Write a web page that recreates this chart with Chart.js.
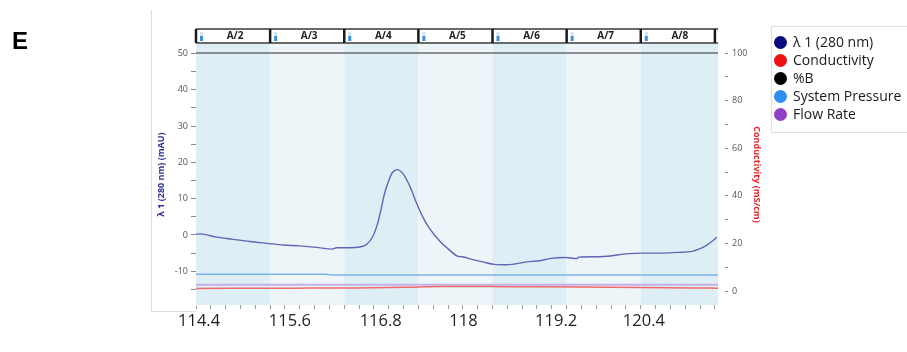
<!DOCTYPE html>
<html>
<head>
<meta charset="utf-8">
<script src="https://cdn.jsdelivr.net/npm/chart.js@4.4.0/dist/chart.umd.min.js"></script>
<style>
  html, body { margin: 0; padding: 0; background: #fff; }
  #wrap { position: relative; width: 907px; height: 352px; overflow: hidden; }
  #panelLetter { position: absolute; left: 12px; top: 29px; font: bold 24px 'Liberation Sans', Arial, sans-serif; line-height: 24px; color: #000; }
  #legend { position: absolute; left: 771px; top: 26px; width: 150px; height: 107px; border: 1px solid #e0e0e0; box-sizing: border-box; padding-top: 6px; font: 14px 'Open Sans', sans-serif; color: #1a1a1a; }
  .item { height: 18px; line-height: 18px; display: flex; align-items: center; white-space: nowrap; }
  .dot { width: 13px; height: 13px; border-radius: 50%; margin-left: 2px; margin-right: 6px; flex: none; }
</style>
</head>
<body>
<div id="wrap">
  <canvas id="chromChart" width="907" height="352"></canvas>
  <div id="panelLetter">E</div>
  <div id="legend"></div>
</div>
<script>
// fraction collection (ml)
const fractionLabels = ['A/2', 'A/3', 'A/4', 'A/5', 'A/6', 'A/7', 'A/8'];
const fractionStart = 114.4;
const fractionWidth = 1.2;

// big labels under the axis, where they sit in the original
const xTickLabels = ['114.4', '115.6', '116.8', '118', '119.2', '120.4'];
const xTickValues = [114.45, 115.92, 117.39, 118.73, 120.23, 121.65];

// UV 280 nm (mAU)
const uvVolume = [114.40, 114.46, 114.74, 115.00, 115.27, 115.55, 115.81, 116.08, 116.35, 116.60,
    116.68, 116.89, 117.05, 117.16, 117.26, 117.34, 117.40, 117.45, 117.53, 117.58,
    117.66, 117.74, 117.86, 117.97, 118.07, 118.18, 118.34, 118.50, 118.63, 118.71,
    118.87, 119.04, 119.23, 119.42, 119.52, 119.75, 119.96, 120.12, 120.39, 120.56,
    120.60, 120.88, 121.14, 121.36, 121.62, 121.90, 122.22, 122.43, 122.54, 122.65,
    122.75, 122.83];
const uvSignal = [0.2, 0.3, -0.6, -1.2, -1.8, -2.3, -2.75, -3.0, -3.4, -3.9,
    -3.5, -3.5, -3.3, -2.6, -0.5, 3.2, 7.4, 11.3, 15.4, 17.2,
    18.0, 17.1, 13.5, 8.8, 5.0, 1.8, -1.6, -4.1, -5.8, -6.0,
    -6.7, -7.4, -8.1, -8.2, -8.1, -7.4, -7.1, -6.5, -6.2, -6.5,
    -6.1, -6.0, -5.7, -5.2, -5.0, -5.0, -4.8, -4.5, -3.9, -3.0,
    -1.8, -0.6];

// conductivity (mS/cm, right axis)
const condVolume = [114.4, 116.0, 117.0, 117.8, 118.4, 119.5, 120.6, 121.6, 122.4, 122.85];
const condValue = [1.1, 1.2, 1.3, 1.6, 1.9, 1.8, 1.7, 1.5, 1.3, 1.2];

// %B (right axis)
const percentBVolume = [114.4, 122.85];
const percentBValue = [100, 100];

// system pressure and flow rate, read against the left axis
const pressureVolume = [114.4, 116.5, 116.6, 122.85];
const pressureLevel = [-10.8, -10.8, -11.0, -11.0];
const flowVolume = [114.4, 122.85];
const flowLevel = [-13.7, -13.7];

const legendNames = ['λ 1 (280 nm)', 'Conductivity', '%B', 'System Pressure', 'Flow Rate'];
const legendColors = ['#0b0b80', '#ee1111', '#000000', '#2e8ff0', '#9040c8'];

const toPoints = (xs, ys) => xs.map((x, i) => ({ x: x, y: ys[i] }));

// legend
const legendBox = document.getElementById('legend');
legendNames.forEach((name, i) => {
    const row = document.createElement('div');
    row.className = 'item';
    row.innerHTML = '<span class="dot" style="background:' + legendColors[i] + '"></span>' + name;
    legendBox.appendChild(row);
});

// bands, fraction header, big x labels
const fractionPlugin = {
    id: 'fractions',
    beforeDatasetsDraw(chart) {
        const { ctx, chartArea, scales } = chart;
        const x = scales.x;
        ctx.save();
        ctx.beginPath();
        ctx.rect(chartArea.left, chartArea.top, chartArea.right - chartArea.left, chartArea.bottom - chartArea.top);
        ctx.clip();
        fractionLabels.forEach((lab, i) => {
            const x0 = x.getPixelForValue(fractionStart + i * fractionWidth);
            const x1 = i === fractionLabels.length - 1 ? chartArea.right : x.getPixelForValue(fractionStart + (i + 1) * fractionWidth);
            ctx.fillStyle = i % 2 === 0 ? '#ddeef5' : '#edf5f9';
            ctx.fillRect(x0, chartArea.top, x1 - x0, chartArea.bottom - chartArea.top);
        });
        ctx.restore();
    },
    afterDraw(chart) {
        const { ctx, chartArea, scales } = chart;
        const x = scales.x;
        const top = 29, bottom = 43;
        ctx.save();
        // header boxes
        const hx0 = x.getPixelForValue(fractionStart);
        const hx1 = x.getPixelForValue(fractionStart + fractionLabels.length * fractionWidth);
        ctx.fillStyle = '#ffffff';
        ctx.fillRect(hx0, top, hx1 - hx0, bottom - top);
        ctx.strokeStyle = '#3a3a3a';
        ctx.lineWidth = 1.5;
        ctx.beginPath();
        ctx.moveTo(hx0, top); ctx.lineTo(chartArea.right, top);
        ctx.moveTo(hx0, bottom); ctx.lineTo(chartArea.right, bottom);
        ctx.stroke();
        fractionLabels.forEach((lab, i) => {
            const x0 = x.getPixelForValue(fractionStart + i * fractionWidth);
            const x1 = x.getPixelForValue(fractionStart + (i + 1) * fractionWidth);
            ctx.strokeStyle = '#1a1a1a';
            ctx.lineWidth = 2.5;
            ctx.beginPath();
            ctx.moveTo(x0, top); ctx.lineTo(x0, bottom);
            ctx.stroke();
            // tube icon
            ctx.fillStyle = '#cfe3f4';
            ctx.fillRect(x0 + 4, top + 3, 3, 4);
            ctx.fillStyle = '#3b8fdc';
            ctx.fillRect(x0 + 4, top + 7, 3, 5);
            ctx.fillStyle = '#222';
            ctx.font = 'bold 10px "Open Sans", sans-serif';
            ctx.textAlign = 'center';
            ctx.textBaseline = 'middle';
            ctx.fillText(lab, (x0 + x1) / 2 + 2, (top + bottom) / 2 + 0.5);
        });
        ctx.strokeStyle = '#1a1a1a';
        ctx.lineWidth = 2.5;
        ctx.beginPath();
        ctx.moveTo(hx1, top); ctx.lineTo(hx1, bottom);
        ctx.stroke();

        // big tick labels
        ctx.fillStyle = '#1e1e1e';
        ctx.font = '16.5px "Open Sans", sans-serif';
        ctx.textAlign = 'center';
        ctx.textBaseline = 'middle';
        xTickLabels.forEach((lab, i) => {
            ctx.fillText(lab, x.getPixelForValue(xTickValues[i]), 321);
        });

        // panel frame
        ctx.strokeStyle = '#dddddd';
        ctx.lineWidth = 1;
        ctx.beginPath();
        ctx.moveTo(151.5, 10);
        ctx.lineTo(151.5, 311.5);
        ctx.lineTo(chartArea.left, 311.5);
        ctx.stroke();
        ctx.restore();
    }
};

const chromCtx = document.getElementById('chromChart').getContext('2d');
const chromChart = new Chart(chromCtx, {
    type: 'line',
    data: {
        datasets: [
            {
                label: 'λ 1 (280 nm)',
                data: toPoints(uvVolume, uvSignal),
                borderColor: '#6065b8',
                borderWidth: 1.4,
                pointRadius: 0,
                cubicInterpolationMode: 'monotone',
                yAxisID: 'y',
            },
            {
                label: 'System Pressure',
                data: toPoints(pressureVolume, pressureLevel),
                borderColor: '#7cb2ee',
                borderWidth: 1.5,
                pointRadius: 0,
                yAxisID: 'y',
            },
            {
                label: 'Conductivity',
                data: toPoints(condVolume, condValue),
                borderColor: '#ef6b6b',
                borderWidth: 1.5,
                pointRadius: 0,
                cubicInterpolationMode: 'monotone',
                yAxisID: 'y1',
            },
            {
                label: 'Flow Rate',
                data: toPoints(flowVolume, flowLevel),
                borderColor: '#c7afe6',
                borderWidth: 2,
                pointRadius: 0,
                yAxisID: 'y',
            },
            {
                label: '%B',
                data: toPoints(percentBVolume, percentBValue),
                borderColor: '#6b6b6b',
                borderWidth: 1.5,
                pointRadius: 0,
                yAxisID: 'y1',
            },
        ],
    },
    options: {
        responsive: false,
        animation: false,
        layout: {
            padding: { left: 150, right: 143, top: 44, bottom: 0 },
        },
        plugins: {
            legend: { display: false },
            tooltip: { enabled: false },
        },
        scales: {
            x: {
                type: 'linear',
                min: 114.4,
                max: 122.85,
                afterBuildTicks: (scale) => {
                    const t = [];
                    for (let i = 0; i <= fractionLabels.length * 5; i++) {
                        t.push({ value: fractionStart + i * fractionWidth / 5 });
                    }
                    scale.ticks = t;
                },
                afterFit: (scale) => { scale.height = 47; },
                ticks: { display: false },
                grid: { drawOnChartArea: false, drawTicks: true, tickLength: 4, color: '#9a9a9a' },
                border: { display: false },
            },
            y: {
                position: 'left',
                min: -19.28,
                max: 52.6,
                afterFit: (scale) => { scale.width = 46; },
                ticks: {
                    stepSize: 5,
                    includeBounds: false,
                    padding: 3,
                    color: '#555',
                    font: { family: 'Open Sans', size: 9 },
                    callback: (v) => (v % 10 === 0 ? String(v) : ''),
                },
                grid: { drawOnChartArea: false, tickLength: 5, color: '#8a8a8a' },
                border: { display: true, color: '#d0d0d0' },
                title: {
                    display: true,
                    text: 'λ 1 (280 nm) (mAU)',
                    color: '#2e3192',
                    font: { family: 'Open Sans', size: 9, weight: 'bold' },
                    padding: { top: 6, bottom: 0 },
                },
            },
            y1: {
                position: 'right',
                min: -5.88,
                max: 103.8,
                afterFit: (scale) => { scale.width = 46; },
                ticks: {
                    stepSize: 10,
                    includeBounds: false,
                    padding: 4,
                    color: '#555',
                    font: { family: 'Open Sans', size: 9 },
                    callback: (v) => (v % 20 === 0 ? String(v) : ''),
                },
                grid: { drawOnChartArea: false, tickLength: 10, color: '#8a8a8a', tickBorderDash: [0, 7, 3, 50] },
                border: { display: false },
                title: {
                    display: true,
                    text: 'Conductivity (mS/cm)',
                    color: '#e8202a',
                    font: { family: 'Open Sans', size: 9, weight: 'bold' },
                    padding: { top: 2, bottom: 0 },
                },
            },
        },
    },
    plugins: [fractionPlugin],
});
</script>
</body>
</html>
